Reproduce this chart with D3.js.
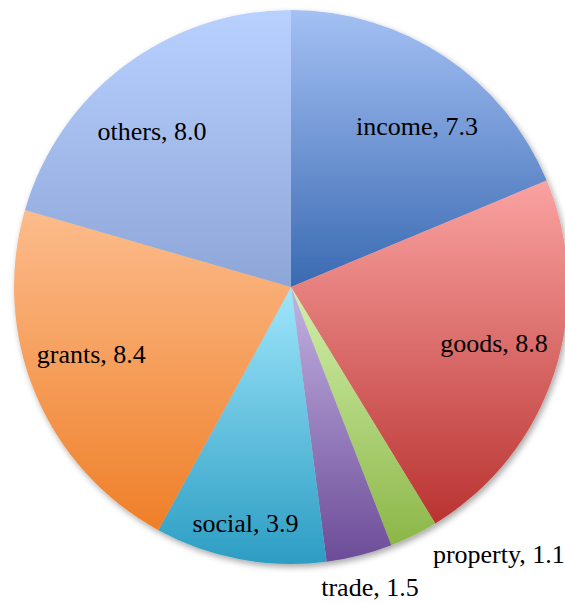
<!DOCTYPE html>
<html>
<head>
<meta charset="utf-8">
<script src="https://cdn.jsdelivr.net/npm/d3@7"></script>
<style>
  html, body { margin: 0; padding: 0; background: #fff; }
  svg { display: block; }
  .slice-label { font-family: "Liberation Serif", "Times New Roman", Times, serif; }
</style>
</head>
<body>
<svg id="chart" width="565" height="603"></svg>
<script>
// Revenue components (share of total)
const categories = ["income", "goods", "property", "trade", "social", "grants", "others"];
const values = [7.3, 8.8, 1.1, 1.5, 3.9, 8.4, 8.0];

// Slice fills: vertical gradient, light at top, deep at bottom
const topColors    = ["#a4c0f4", "#faa3a1", "#d2f0ab", "#c3b3e3", "#9fe6fb", "#fcbc8c", "#b9d1ff"];
const bottomColors = ["#3a6ab2", "#b93331", "#8cb648", "#6c4c98", "#2c9dc3", "#ef7f28", "#8da6d8"];

// Label placement: radius as a fraction of pie radius, angle shift in degrees
const labelRadius = [0.737, 0.761, 1.224, 1.123, 0.868, 0.761, 0.754];
const labelShift  = [4.4, -2.4, -11.5, -0.4, 0.3, 3.9, -4.8];

const width = 565, height = 603;
const cx = 291, cy = 287, radius = 277;
const fontSize = 26;

const svg = d3.select("#chart");
const defs = svg.append("defs");

const shadow = defs.append("filter")
  .attr("id", "pie-shadow")
  .attr("x", "-10%").attr("y", "-10%")
  .attr("width", "120%").attr("height", "120%");
shadow.append("feDropShadow")
  .attr("dx", 2).attr("dy", 3)
  .attr("stdDeviation", 3)
  .attr("flood-color", "#000")
  .attr("flood-opacity", 0.35);

categories.forEach((c, i) => {
  const g = defs.append("linearGradient")
    .attr("id", "grad-" + i)
    .attr("x1", 0).attr("y1", 0).attr("x2", 0).attr("y2", 1);
  g.append("stop").attr("offset", "0%").attr("stop-color", topColors[i]);
  g.append("stop").attr("offset", "100%").attr("stop-color", bottomColors[i]);
});

const data = categories.map((c, i) => ({ name: c, value: values[i], index: i }));

const pie = d3.pie()
  .value(d => d.value)
  .sort(null);

const arc = d3.arc()
  .innerRadius(0)
  .outerRadius(radius);

const arcs = pie(data);

const g = svg.append("g")
  .attr("transform", `translate(${cx},${cy})`);

g.append("g")
  .attr("filter", "url(#pie-shadow)")
  .selectAll("path")
  .data(arcs)
  .join("path")
  .attr("d", arc)
  .attr("fill", d => `url(#grad-${d.data.index})`);

const fmt = d3.format(".1f");

g.append("g")
  .selectAll("text")
  .data(arcs)
  .join("text")
  .attr("class", "slice-label")
  .attr("transform", d => {
    const i = d.data.index;
    const a = (d.startAngle + d.endAngle) / 2 + labelShift[i] * Math.PI / 180;
    const r = labelRadius[i] * radius;
    const x = r * Math.sin(a);
    const y = -r * Math.cos(a) + fontSize * 0.33;
    return `translate(${x},${y})`;
  })
  .attr("text-anchor", "middle")
  .attr("font-size", fontSize)
  .attr("fill", "#000")
  .text(d => `${d.data.name}, ${fmt(d.data.value)}`);
</script>
</body>
</html>
